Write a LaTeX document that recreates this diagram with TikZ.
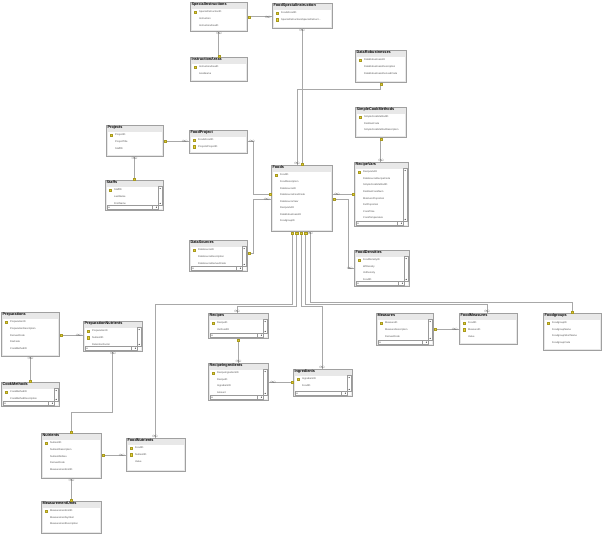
\documentclass[tikz,border=0pt]{standalone}
\usepackage{fontspec}
\setmainfont{Liberation Sans}
\definecolor{keyyellow}{HTML}{E6D030}
\definecolor{keyolive}{HTML}{A89A20}
\definecolor{linegray}{HTML}{A8A8A8}
\definecolor{framegray}{HTML}{A0A0A0}
\definecolor{titlegray}{HTML}{E8E8E8}
\definecolor{rowtext}{HTML}{505050}
\definecolor{scrollgray}{HTML}{9A9A9A}

\newcommand{\dbtable}[8]{%
  \node[tabframe,minimum width=#4pt,minimum height=#5pt] (#1) at (#2,#3) {};
  \fill[white] ([shift={(2,6.5)}]#1.north west) rectangle ([shift={(-2,-2)}]#1.south east);
  \node[tabtitle] (#1-title) at ([shift={(1,0.6)}]#1.north west) {#6};
  \foreach \f [count=\i] in {#8} {
    \node[tabrow] (#1-r\i) at ([shift={(9,3.4+6.6*\i)}]#1.north west) {\f};
    \ifnum\i>#7\relax\else
      \node[rowkey] at ([shift={(5,3.4+6.6*\i)}]#1.north west) {};
    \fi
  }
}
\newcommand{\scrollbars}[1]{%
  \fill[white] ([shift={(-5.5,6.5)}]#1.north east) rectangle ([shift={(-2,-2)}]#1.south east);
  \fill[white] ([shift={(2,-5.5)}]#1.south west) rectangle ([shift={(-2,-2)}]#1.south east);
  \draw[scrollgray,line width=0.3pt] ([shift={(-5.5,6.5)}]#1.north east) rectangle ([shift={(-2,-5.5)}]#1.south east);
  \draw[scrollgray,line width=0.3pt] ([shift={(2,-5.5)}]#1.south west) rectangle ([shift={(-5.5,-2)}]#1.south east);
  \fill[black] ([shift={(-3.75,8.5)}]#1.north east) circle (0.55);
  \fill[black] ([shift={(-3.75,-7.5)}]#1.south east) circle (0.55);
  \fill[black] ([shift={(4,-3.75)}]#1.south west) circle (0.55);
  \fill[black] ([shift={(-7.5,-3.75)}]#1.south east) circle (0.55);
  \draw[scrollgray,line width=0.3pt] ([shift={(-12,-5.5)}]#1.south east) -- ([shift={(-12,-2)}]#1.south east);
}

\begin{document}
\begin{tikzpicture}[x=1pt,y=-1pt,
  tabframe/.style={rectangle,draw=framegray,fill=titlegray,line width=0.9pt,anchor=north west,inner sep=0pt},
  tabtitle/.style={anchor=north west,inner sep=0.4pt,font=\bfseries\fontsize{3.8}{4}\selectfont},
  tabrow/.style={anchor=west,inner sep=0pt,text=rowtext,font=\fontsize{2.5}{3}\selectfont},
  rowkey/.style={fill=keyyellow,draw=keyolive,line width=0.15pt,inner sep=0pt,minimum width=1.6pt,minimum height=2.4pt},
  rel/.style={draw=linegray,line width=1pt},
  keyend/.style={fill=keyyellow,draw=keyolive,line width=0.15pt,inner sep=0pt,minimum width=2.2pt,minimum height=2.2pt},
  manyend/.style={inner sep=0.3pt,text=gray!80!black,font=\fontsize{4}{4}\selectfont}]
  \useasboundingbox (0,0) rectangle (602,533);

  \dbtable{SpecialInstructions}{190}{2}{57}{29}{SpecialInstructions}{1}{SpecialInstructionID,Instruction,InstructionAreaID}
  \dbtable{FoodSpecialInstruction}{272}{3}{60}{25}{FoodSpecialInstruction}{2}{FoodsFoodID,{SpecialInstructionsSpecialInstruct\ldots}}
  \dbtable{InstructionAreas}{190}{57}{57}{24}{InstructionAreas}{1}{InstructionAreaID,AreaName}
  \dbtable{DataRobustnesses}{355}{50}{51}{32}{DataRobustnesses}{1}{DataRobustnessID,DataRobustnessDescription,DataRobustnessDerivedCode}
  \dbtable{SimpleCookMethods}{355}{107}{51}{30}{SimpleCookMethods}{1}{SimpleCookMethodID,DietitianCode,SimpleCookMethodDescription}
  \dbtable{Projects}{106}{125}{57}{31}{Projects}{1}{ProjectID,ProjectTitle,StaffID}
  \dbtable{FoodProject}{189}{130}{58}{23}{FoodProject}{2}{FoodsFoodID,ProjectsProjectID}
  \dbtable{Staffs}{105}{180}{58}{30}{Staffs}{1}{StaffID,LastName,FirstName}
  \dbtable{Foods}{271}{165}{61}{66}{Foods}{1}{FoodID,FoodDescription,DataSourceID,DataSourceFoodCode,DataSourceYear,RecipeVarID,DataRobustnessID,FoodgroupID}
  \dbtable{RecipeVars}{354}{162}{54}{64}{RecipeVars}{1}{RecipeVarID,DataSourceRecipeCode,SimpleCookMethodID,DietitianCookNum,MoistureProportion,FatProportion,CookTime,CookTemperature}
  \dbtable{DataSources}{189}{240}{58}{31}{DataSources}{1}{DataSourceID,DataSourceDescription,DataSourceDerivedCode}
  \dbtable{FoodDensities}{354}{250}{55}{36}{FoodDensities}{1}{FoodDensityID,WtDensity,VolDensity,FoodID}
  \dbtable{Preparations}{1}{312}{58}{44}{Preparations}{1}{PreparationID,PreparationDescription,DerivedCode,DiaCode,CookMethodID}
  \dbtable{PreparationNutrients}{83}{321}{59}{30}{PreparationNutrients}{2}{PreparationID,NutrientID,RetentionFactor}
  \dbtable{CookMethods}{1}{382}{58}{24}{CookMethods}{1}{CookMethodID,CookMethodDescription}
  \dbtable{Recipes}{208}{313}{60}{25}{Recipes}{1}{RecipeID,VarFoodID}
  \dbtable{RecipeIngredients}{208}{363}{60}{37}{RecipeIngredients}{1}{RecipeIngredientID,RecipeID,IngredientID,Amount}
  \dbtable{Ingredients}{293}{369}{59}{27}{Ingredients}{1}{IngredientID,FoodID}
  \dbtable{Measures}{376}{313}{57}{32}{Measures}{1}{MeasureID,MeasureDescription,DerivedCode}
  \dbtable{FoodMeasures}{459}{313}{58}{31}{FoodMeasures}{2}{FoodID,MeasureID,Value}
  \dbtable{Foodgroups}{543}{313}{58}{37}{Foodgroups}{1}{FoodgroupID,FoodgroupName,FoodgroupShortName,FoodgroupCode}
  \dbtable{Nutrients}{41}{433}{60}{45}{Nutrients}{1}{NutrientID,NutrientDescription,NutrientAbbrev,DerivedCode,MeasurementUnitID}
  \dbtable{FoodNutrients}{126}{438}{59}{33}{FoodNutrients}{2}{FoodID,NutrientID,Value}
  \dbtable{MeasurementUnits}{41}{501}{60}{32}{MeasurementUnits}{1}{MeasurementUnitID,MeasurementSymbol,MeasurementDescription}

  \scrollbars{Staffs}
  \scrollbars{RecipeVars}
  \scrollbars{DataSources}
  \scrollbars{FoodDensities}
  \scrollbars{PreparationNutrients}
  \scrollbars{CookMethods}
  \scrollbars{Recipes}
  \scrollbars{RecipeIngredients}
  \scrollbars{Ingredients}
  \scrollbars{Measures}

  \draw[rel] (SpecialInstructions.east) node[keyend,anchor=west]{} -- (SpecialInstructions.east -| FoodSpecialInstruction.west) node[manyend,anchor=east]{$\infty$};
  \draw[rel] (InstructionAreas.north) node[keyend,anchor=south]{} -- (InstructionAreas.north |- SpecialInstructions.south) node[manyend,anchor=north]{$\infty$};
  \draw[rel] (Foods.north -| 302,0) node[keyend,anchor=south]{} -- (FoodSpecialInstruction.south -| 302,0) node[manyend,anchor=north]{$\infty$};
  \draw[rel] (DataRobustnesses.south) node[keyend,anchor=north]{} |- (297,89) -- (Foods.north -| 297,0) node[manyend,anchor=south]{$\infty$};
  \draw[rel] (SimpleCookMethods.south) node[keyend,anchor=north]{} -- (SimpleCookMethods.south |- RecipeVars.north) node[manyend,anchor=south]{$\infty$};
  \draw[rel] (Projects.east |- 0,141) node[keyend,anchor=west]{} -- (FoodProject.west |- 0,141) node[manyend,anchor=east]{$\infty$};
  \draw[rel] (Staffs.north) node[keyend,anchor=south]{} -- (Staffs.north |- Projects.south) node[manyend,anchor=north]{$\infty$};
  \draw[rel] (Foods.west |- 0,194) node[keyend,anchor=east]{} -| (253,141) -- (FoodProject.east |- 0,141) node[manyend,anchor=west]{$\infty$};
  \draw[rel] (DataSources.east |- 0,253) node[keyend,anchor=west]{} -| (253,199) -- (Foods.west |- 0,199) node[manyend,anchor=east]{$\infty$};
  \draw[rel] (RecipeVars.west |- 0,194) node[keyend,anchor=east]{} -- (Foods.east |- 0,194) node[manyend,anchor=west]{$\infty$};
  \draw[rel] (Foods.east |- 0,199) node[keyend,anchor=west]{} -| (348,268) -- (FoodDensities.west |- 0,268) node[manyend,anchor=east]{$\infty$};
  \draw[rel] (Foods.south -| 292,0) node[keyend,anchor=north]{} |- (155,304) -- (FoodNutrients.north -| 155,0) node[manyend,anchor=south]{$\infty$};
  \draw[rel] (Foods.south -| 296.5,0) node[keyend,anchor=north]{} |- (237,306) -- (Recipes.north -| 237,0) node[manyend,anchor=south]{$\infty$};
  \draw[rel] (Foods.south -| 301,0) node[keyend,anchor=north]{} |- (322,306) -- (Ingredients.north -| 322,0) node[manyend,anchor=south]{$\infty$};
  \draw[rel] (Foods.south -| 305.5,0) node[keyend,anchor=north]{} |- (487,304) -- (FoodMeasures.north -| 487,0) node[manyend,anchor=south]{$\infty$};
  \draw[rel] (Foodgroups.north -| 572,0) node[keyend,anchor=south]{} |- (310,302) -- (Foods.south -| 310,0) node[manyend,anchor=north]{$\infty$};
  \draw[rel] (Preparations.east |- 0,335) node[keyend,anchor=west]{} -- (PreparationNutrients.west |- 0,335) node[manyend,anchor=east]{$\infty$};
  \draw[rel] (CookMethods.north) node[keyend,anchor=south]{} -- (CookMethods.north |- Preparations.south) node[manyend,anchor=north]{$\infty$};
  \draw[rel] (Nutrients.north) node[keyend,anchor=south]{} |- (PreparationNutrients.south |- 0,412) -- (PreparationNutrients.south) node[manyend,anchor=north]{$\infty$};
  \draw[rel] (Nutrients.east |- 0,455) node[keyend,anchor=west]{} -- (FoodNutrients.west |- 0,455) node[manyend,anchor=east]{$\infty$};
  \draw[rel] (MeasurementUnits.north) node[keyend,anchor=south]{} -- (MeasurementUnits.north |- Nutrients.south) node[manyend,anchor=north]{$\infty$};
  \draw[rel] (Recipes.south) node[keyend,anchor=north]{} -- (Recipes.south |- RecipeIngredients.north) node[manyend,anchor=south]{$\infty$};
  \draw[rel] (Ingredients.west |- 0,382) node[keyend,anchor=east]{} -- (RecipeIngredients.east |- 0,382) node[manyend,anchor=west]{$\infty$};
  \draw[rel] (Measures.east |- 0,329) node[keyend,anchor=west]{} -- (FoodMeasures.west |- 0,329) node[manyend,anchor=east]{$\infty$};
\end{tikzpicture}
\end{document}
